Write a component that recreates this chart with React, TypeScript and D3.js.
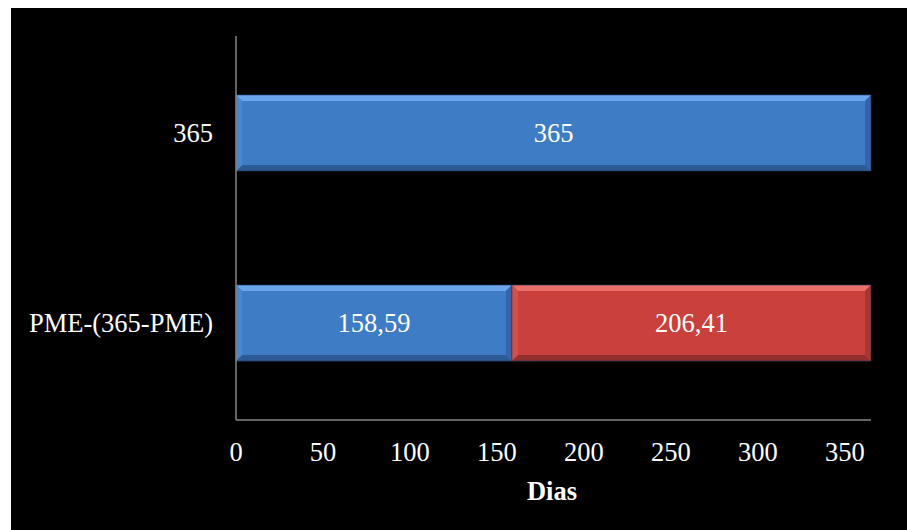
import React from "react";
import * as d3 from "d3";

const categories = ["365", "PME-(365-PME)"];
const seriesA = [365, 158.59];
const seriesB = [0, 206.41];
const xTicks = [0, 50, 100, 150, 200, 250, 300, 350];
const valueLabels = [["365", ""], ["158,59", "206,41"]];

const W = 907;
const H = 530;

const x = d3.scaleLinear().domain([0, 365]).range([236, 871]);
const y = d3.scaleBand<string>().domain(categories).range([36, 420]).paddingInner(0.6).paddingOuter(0.31);

const palettes = {
  blue: { main: "#3f7cc6", top: "#6ba6ec", bottom: "#2d5a93", left: "#4b87d0", right: "#3565a8" },
  red: { main: "#c9403d", top: "#ea6e6a", bottom: "#93302e", left: "#d3504c", right: "#a93633" },
};

function BevelBar({ x0, x1, y0, h, pal }: { x0: number; x1: number; y0: number; h: number; pal: typeof palettes.blue }) {
  const b = 6;
  const y1 = y0 + h;
  const pts = (a: number[][]) => a.map((p) => p.join(",")).join(" ");
  return (
    <g>
      <rect x={x0} y={y0} width={x1 - x0} height={h} fill={pal.main} />
      <polygon points={pts([[x0, y0], [x1, y0], [x1 - b, y0 + b], [x0 + b, y0 + b]])} fill={pal.top} />
      <polygon points={pts([[x0, y1], [x1, y1], [x1 - b, y1 - b], [x0 + b, y1 - b]])} fill={pal.bottom} />
      <polygon points={pts([[x0, y0], [x0 + b, y0 + b], [x0 + b, y1 - b], [x0, y1]])} fill={pal.left} />
      <polygon points={pts([[x1, y0], [x1 - b, y0 + b], [x1 - b, y1 - b], [x1, y1]])} fill={pal.right} />
      <rect x={x0} y={y0} width={x1 - x0} height={h} fill="none" stroke="#1d3a63" strokeOpacity={0.6} strokeWidth={1} />
    </g>
  );
}

export default function App() {
  const font = "Liberation Serif, DejaVu Serif, serif";
  const fs = 26.5;
  return (
    <svg width={W} height={H} style={{ position: "absolute", left: 0, top: 0 }} fontFamily={font}>
      <rect x={0} y={0} width={W} height={H} fill="#ffffff" />
      <rect x={11} y={8} width={W - 11} height={H - 8} fill="#000000" />
      {categories.map((c, i) => {
        const by = y(c)!;
        const bh = y.bandwidth();
        const a0 = x(0);
        const a1 = x(seriesA[i]);
        const b1 = x(seriesA[i] + seriesB[i]);
        return (
          <g key={c}>
            <BevelBar x0={a0} x1={a1} y0={by} h={bh} pal={palettes.blue} />
            {seriesB[i] > 0 && <BevelBar x0={a1} x1={b1} y0={by} h={bh} pal={palettes.red} />}
            <text x={(a0 + a1) / 2} y={by + bh / 2} dy="0.33em" textAnchor="middle" fill="#fff" fontSize={fs}>
              {valueLabels[i][0]}
            </text>
            {seriesB[i] > 0 && (
              <text x={(a1 + b1) / 2} y={by + bh / 2} dy="0.33em" textAnchor="middle" fill="#fff" fontSize={fs}>
                {valueLabels[i][1]}
              </text>
            )}
            <text x={213} y={by + bh / 2} dy="0.33em" textAnchor="end" fill="#fff" fontSize={fs}>
              {c}
            </text>
          </g>
        );
      })}
      <line x1={x(0)} x2={x(0)} y1={36} y2={420} stroke="#858585" strokeWidth={1.5} />
      <line x1={x(0)} x2={x(365)} y1={420} y2={420} stroke="#858585" strokeWidth={1.5} />
      {xTicks.map((t) => (
        <text key={t} x={x(t)} y={461} textAnchor="middle" fill="#fff" fontSize={fs}>
          {t}
        </text>
      ))}
      <text x={552} y={500} textAnchor="middle" fill="#fff" fontSize={fs} fontWeight="bold">
        Dias
      </text>
    </svg>
  );
}
